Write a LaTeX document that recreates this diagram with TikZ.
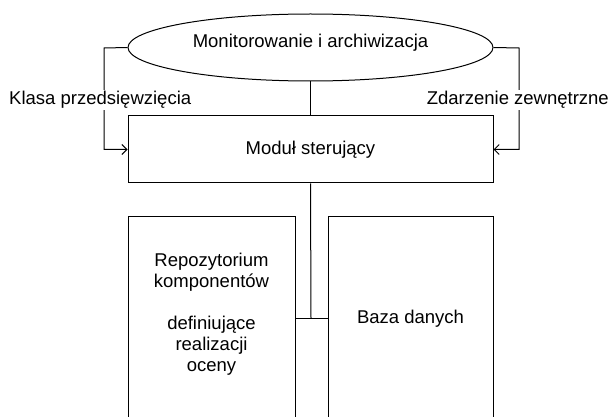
\documentclass[tikz,border=0pt]{standalone}
\usepackage{fontspec}
\setmainfont{Liberation Sans}
\usetikzlibrary{shapes.geometric,arrows.meta}
\begin{document}
\begin{tikzpicture}[x=1pt,y=-1pt,
  every node/.style={font=\fontsize{18.5}{22}\selectfont,align=center},
  boxnode/.style={draw,line width=1pt,rectangle,inner sep=0pt},
  conn/.style={line width=1pt},
  arr/.style={line width=1pt,-{Straight Barb[length=5pt,width=10pt]}},
  lbl/.style={fill=white,inner sep=1pt}]
\useasboundingbox (0,0) rectangle (611,417);
\clip (0,0) rectangle (611,417);
\node[draw,line width=1pt,ellipse,minimum width=365pt,minimum height=67pt,inner sep=0pt] (mon) at (310.5,47.5) {};
\node (montxt) at (310.5,43) {Monitorowanie i archiwizacja};
\node[boxnode,minimum width=365pt,minimum height=67pt] (mod) at (310.5,149.5) {Moduł sterujący};
\node[boxnode,minimum width=167pt,minimum height=226pt] (repo) at (211.5,330) {};
\node[boxnode,minimum width=165pt,minimum height=226pt] (baza) at (410.5,330) {};
\node (repotxt) at (211.5,272) {Repozytorium\\[-1pt]komponentów};
\node (repotxt2) at (211.5,346) {definiujące\\[-1pt]realizacji\\[-1pt]oceny};
\node (bazatxt) at (410.5,319) {Baza danych};
\coordinate (lc) at (104,48);
\coordinate (rc) at (519,48);
\coordinate (j) at (311,318);
\draw[arr] (mon.west) -- (lc) -- (lc |- mod.west) -- (mod.west);
\draw[arr] (mon.east) -- (rc) -- (rc |- mod.east) -- (mod.east);
\draw[conn] (mon.south) -- (mod.north);
\draw[conn] (mod.south) -- (j);
\draw[conn] (repo.east |- j) -- (baza.west |- j);
\node[lbl,anchor=west] (klasa) at (8,100) {Klasa przedsięwzięcia};
\node[lbl,anchor=east] (zdarz) at (610,100) {Zdarzenie zewnętrzne};
\end{tikzpicture}
\end{document}
